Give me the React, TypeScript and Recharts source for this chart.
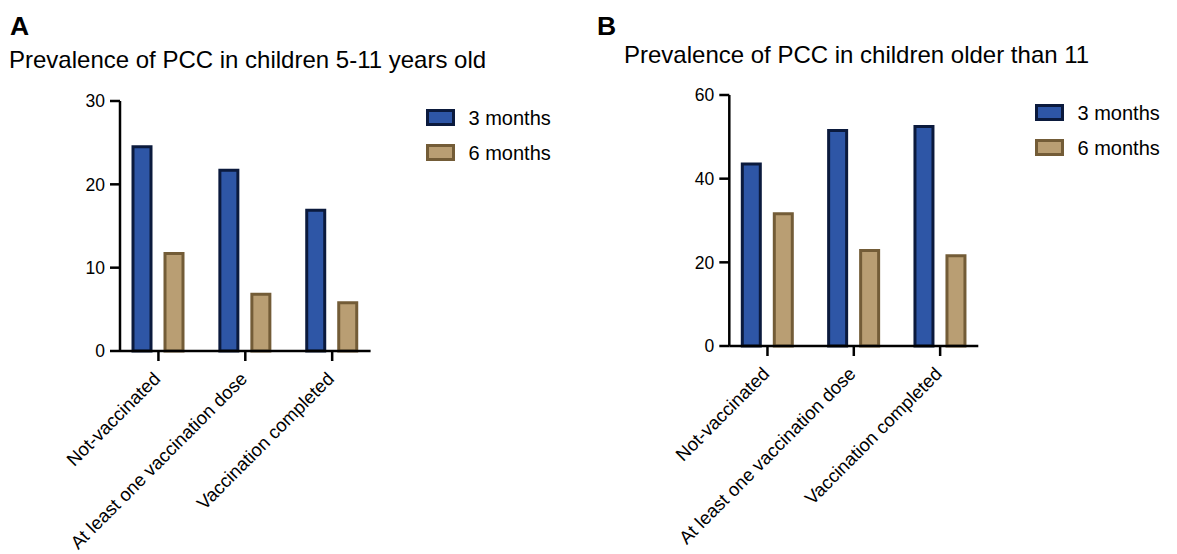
import { BarChart, Bar, XAxis, YAxis, Legend } from "recharts";

const categories = ["Not-vaccinated", "At least one vaccination dose", "Vaccination completed"];
const seriesNames = ["3 months", "6 months"];
const youngerThreeMonths = [24.5, 21.7, 16.9];
const youngerSixMonths = [11.7, 6.8, 5.8];
const olderThreeMonths = [43.5, 51.5, 52.5];
const olderSixMonths = [31.6, 22.8, 21.6];
const youngerTicks = [0, 10, 20, 30];
const olderTicks = [0, 20, 40, 60];

const fills = ["#2e56a6", "#b99e73"];
const strokes = ["#0b1a3d", "#735c37"];
const FONT = '"Liberation Sans", Arial, Helvetica, sans-serif';

const CategoryTick = (props: any) => {
  const { x, y, payload } = props;
  const ax = x + 3;
  const ay = y + 19;
  return (
    <text
      x={ax}
      y={ay}
      transform={`rotate(-45, ${ax}, ${ay})`}
      textAnchor="end"
      fontSize={18.5}
      fontFamily={FONT}
      fill="#000"
    >
      {payload.value}
    </text>
  );
};

const ValueTick = (props: any) => {
  const { x, y, payload } = props;
  return (
    <text x={x} y={y} dy="0.36em" textAnchor="end" fontSize={17.5} fontFamily={FONT} fill="#000">
      {payload.value}
    </text>
  );
};

const SwatchLegend = () => (
  <div style={{ fontFamily: FONT }}>
    {seriesNames.map((name, i) => (
      <div key={name} style={{ display: "flex", alignItems: "center", height: 35 }}>
        <svg width={30} height={18} style={{ marginRight: 12.5, display: "block" }}>
          <rect x={1.5} y={1.5} width={26} height={14} fill={fills[i]} stroke={strokes[i]} strokeWidth={3} />
        </svg>
        <span style={{ fontSize: 20, color: "#000", lineHeight: 1 }}>{name}</span>
      </div>
    ))}
  </div>
);

interface PanelProps {
  left: number;
  width: number;
  threeMonths: number[];
  sixMonths: number[];
  ticks: number[];
  margin: { top: number; right: number; bottom: number; left: number };
  xAxisHeight: number;
  legendPos: { left: number; top: number };
}

const Panel = ({ left, width, threeMonths, sixMonths, ticks, margin, xAxisHeight, legendPos }: PanelProps) => {
  const data = categories.map((name, i) => ({
    name,
    three: threeMonths[i],
    six: sixMonths[i],
  }));
  const axisStyle = { stroke: "#000", strokeWidth: 2.5 };
  return (
    <div style={{ position: "absolute", left, top: 0 }}>
      <BarChart width={width} height={554} data={data} margin={margin} barSize={18} barGap={14}>
        <XAxis
          dataKey="name"
          height={xAxisHeight}
          interval={0}
          padding={{ left: -5, right: -5 }}
          axisLine={axisStyle}
          tickLine={axisStyle}
          tickSize={10}
          tickMargin={0}
          tick={<CategoryTick />}
        />
        <YAxis
          width={60}
          domain={[ticks[0], ticks[ticks.length - 1]]}
          ticks={ticks}
          interval={0}
          axisLine={axisStyle}
          tickLine={axisStyle}
          tickSize={10}
          tickMargin={5}
          tick={<ValueTick />}
        />
        <Legend
          layout="horizontal"
          verticalAlign="middle"
          align="center"
          wrapperStyle={{ left: legendPos.left, top: legendPos.top, width: "auto" }}
          content={<SwatchLegend />}
        />
        <Bar dataKey="three" name={seriesNames[0]} fill={fills[0]} stroke={strokes[0]} strokeWidth={3} isAnimationActive={false} />
        <Bar dataKey="six" name={seriesNames[1]} fill={fills[1]} stroke={strokes[1]} strokeWidth={3} isAnimationActive={false} />
      </BarChart>
    </div>
  );
};

export default function App() {
  return (
    <div style={{ position: "absolute", left: 0, top: 0, width: 1177, height: 554, background: "#fff", fontFamily: FONT }}>
      <div style={{ position: "absolute", left: 10, top: 12.5, fontSize: 26.5, fontWeight: "bold", lineHeight: 1 }}>A</div>
      <div style={{ position: "absolute", left: 9, top: 48, fontSize: 24, lineHeight: 1, whiteSpace: "nowrap" }}>
        Prevalence of PCC in children 5-11 years old
      </div>
      <div style={{ position: "absolute", left: 597, top: 12.5, fontSize: 26.5, fontWeight: "bold", lineHeight: 1 }}>B</div>
      <div style={{ position: "absolute", left: 624, top: 43, fontSize: 24, lineHeight: 1, whiteSpace: "nowrap" }}>
        Prevalence of PCC in children older than 11
      </div>
      <Panel
        left={0}
        width={590}
        threeMonths={youngerThreeMonths}
        sixMonths={youngerSixMonths}
        ticks={youngerTicks}
        margin={{ top: 101, right: 219.4, bottom: 8, left: 60 }}
        xAxisHeight={195}
        legendPos={{ left: 426, top: 100.5 }}
      />
      <Panel
        left={590}
        width={587}
        threeMonths={olderThreeMonths}
        sixMonths={olderSixMonths}
        ticks={olderTicks}
        margin={{ top: 95, right: 198.7, bottom: 8, left: 79.3 }}
        xAxisHeight={200}
        legendPos={{ left: 445, top: 95.5 }}
      />
    </div>
  );
}
